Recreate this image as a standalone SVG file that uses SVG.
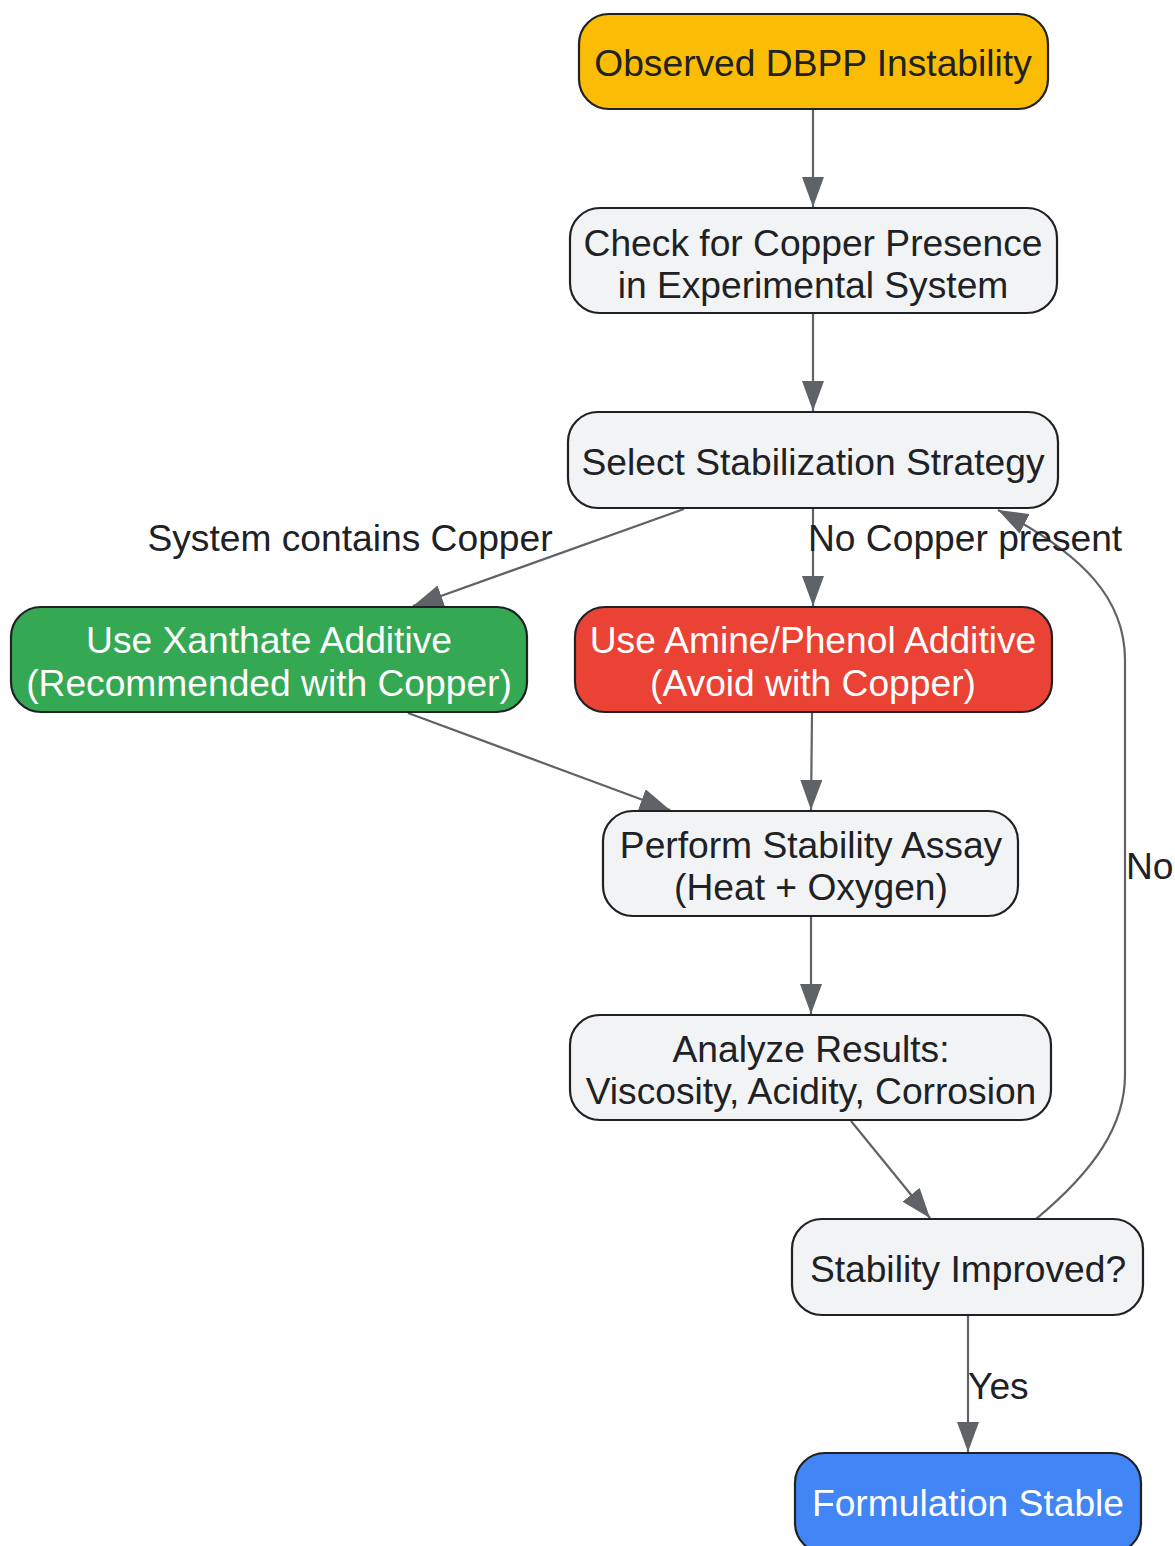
<svg xmlns="http://www.w3.org/2000/svg" width="1175" height="1546" viewBox="0 0 1175 1546">
<style>
.n rect{stroke:#202124;stroke-width:2.2}
.g{fill:#F1F3F4}
.t{font-family:"Liberation Sans",Arial,sans-serif;font-size:37.2px;fill:#202124;text-anchor:middle}
.w{fill:#ffffff}
.e path{fill:none;stroke:#5f6368;stroke-width:2.2}
.l{font-family:"Liberation Sans",Arial,sans-serif;font-size:37.2px;fill:#202124}
</style>
<defs>
<marker id="ah" markerUnits="userSpaceOnUse" markerWidth="30" markerHeight="22" viewBox="0 0 30 22" refX="30" refY="11" orient="auto">
<path d="M0,0 L30,11 L0,22 z" fill="#5f6368"/>
</marker>
</defs>
<rect width="1175" height="1546" fill="#ffffff"/>
<g id="connectors" class="e">
<path d="M813,109 L813,207" marker-end="url(#ah)"/>
<path d="M813,313 L813,411" marker-end="url(#ah)"/>
<path d="M684,509 L413,606" marker-end="url(#ah)"/>
<path d="M813,509 L813,606" marker-end="url(#ah)"/>
<path d="M408,713 L670,810" marker-end="url(#ah)"/>
<path d="M812,713 L811,810" marker-end="url(#ah)"/>
<path d="M811,916 L811,1014" marker-end="url(#ah)"/>
<path d="M851,1121 L930,1218" marker-end="url(#ah)"/>
<path d="M1036,1219 C1095,1170 1125,1125 1125,1075 L1125,660 C1125,600 1085,555 998,510" marker-end="url(#ah)"/>
<path d="M968,1315 L968,1452" marker-end="url(#ah)"/>
<text class="l" x="350" y="551" text-anchor="middle">System contains Copper</text>
<text class="l" x="808" y="551">No Copper present</text>
<text class="l" x="1126" y="879">No</text>
<text class="l" x="968" y="1399">Yes</text>
</g>
<g id="n1" class="n"><rect x="579" y="14" width="469" height="95" rx="30" fill="#FBBC05"/><text class="t" x="813" y="76">Observed DBPP Instability</text></g>
<g id="n2" class="n"><rect class="g" x="570" y="208" width="487" height="105" rx="30"/><text class="t" x="813" y="256">Check for Copper Presence</text><text class="t" x="813" y="298">in Experimental System</text></g>
<g id="n3" class="n"><rect class="g" x="568" y="412" width="490" height="96" rx="30"/><text class="t" x="813" y="475">Select Stabilization Strategy</text></g>
<g id="n4" class="n"><rect x="11" y="607" width="516" height="105" rx="30" fill="#34A853"/><text class="t w" x="269" y="653">Use Xanthate Additive</text><text class="t w" x="269" y="696">(Recommended with Copper)</text></g>
<g id="n5" class="n"><rect x="575" y="607" width="477" height="105" rx="30" fill="#EA4335"/><text class="t w" x="813" y="653">Use Amine/Phenol Additive</text><text class="t w" x="813" y="696">(Avoid with Copper)</text></g>
<g id="n6" class="n"><rect class="g" x="603" y="811" width="415" height="105" rx="30"/><text class="t" x="811" y="858">Perform Stability Assay</text><text class="t" x="811" y="900">(Heat + Oxygen)</text></g>
<g id="n7" class="n"><rect class="g" x="570" y="1015" width="481" height="105" rx="30"/><text class="t" x="811" y="1062">Analyze Results:</text><text class="t" x="811" y="1104">Viscosity, Acidity, Corrosion</text></g>
<g id="n8" class="n"><rect class="g" x="792" y="1219" width="351" height="96" rx="30"/><text class="t" x="968" y="1282">Stability Improved?</text></g>
<g id="n9" class="n"><rect x="795" y="1453" width="346" height="100" rx="30" fill="#4285F4"/><text class="t w" x="968" y="1516">Formulation Stable</text></g>
</svg>
